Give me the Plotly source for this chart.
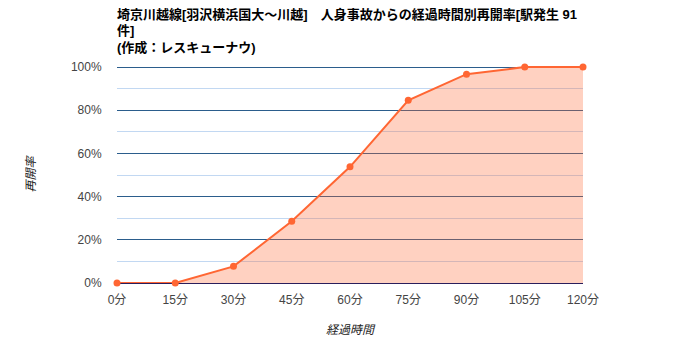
import plotly.graph_objects as go

minutes = [0, 15, 30, 45, 60, 75, 90, 105, 120]
tick_labels = ["0分", "15分", "30分", "45分", "60分", "75分", "90分", "105分", "120分"]
rate = [0.0, 0.0, 0.077, 0.286, 0.538, 0.846, 0.967, 1.0, 1.0]

title_text = ("埼京川越線[羽沢横浜国大～川越]　人身事故からの経過時間別再開率[駅発生 91<br>件]"
              "<br>(作成：レスキューナウ)")

font_family = "Arial, 'Liberation Sans', 'Noto Sans CJK JP', sans-serif"

fig = go.Figure()
fig.add_trace(go.Scatter(
    x=minutes, y=rate, mode="lines+markers",
    line=dict(color="#ff6633", width=2),
    marker=dict(color="#ff6633", size=7),
    fill="tozeroy", fillcolor="rgba(255,102,51,0.3)",
    cliponaxis=False, showlegend=False,
))

fig.update_layout(
    width=700, height=350,
    margin=dict(l=117, r=117, t=66, b=67),
    paper_bgcolor="white", plot_bgcolor="white",
    font=dict(family=font_family, size=12, color="#444444"),
    title=dict(text=title_text, x=117/700, xanchor="left", yref="container",
               y=0.947, yanchor="top",
               font=dict(family=font_family, size=13, color="#000000", weight="bold")),
    xaxis=dict(range=[0, 120], tickvals=minutes, ticktext=tick_labels,
               showgrid=False, zeroline=False, showline=False,
               ticks="outside", ticklen=6, tickcolor="rgba(0,0,0,0)",
               tickfont=dict(size=12, color="#444444"),
               title=dict(text="<i>経過時間</i>", font=dict(size=12, color="#222222"), standoff=19)),
    yaxis=dict(range=[0, 1.005], tickvals=[0, 0.2, 0.4, 0.6, 0.8, 1.0], tickformat=".0%",
               showgrid=True, gridcolor="#2b5d8c", gridwidth=1,
               minor=dict(tickvals=[0.1, 0.3, 0.5, 0.7, 0.9], showgrid=True,
                          gridcolor="#c2d8f2", gridwidth=1),
               zeroline=True, zerolinecolor="#2a1e5c", zerolinewidth=1,
               showline=False, ticks="outside", ticklen=12, tickcolor="rgba(0,0,0,0)",
               tickfont=dict(size=12, color="#444444"),
               title=dict(text="<i>再開率</i>", font=dict(size=12, color="#222222"), standoff=32)),
)

fig.write_html("out.html")
